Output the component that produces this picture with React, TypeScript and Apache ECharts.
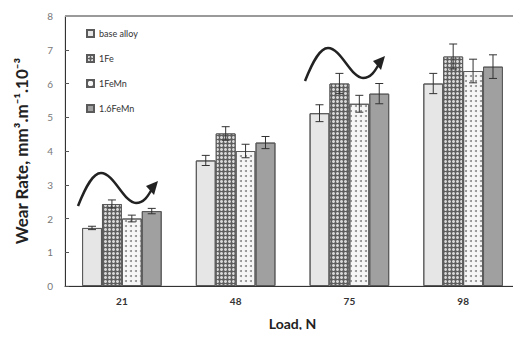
import React, { useEffect, useRef } from "react";
import * as echarts from "echarts";

const categories = ["21", "48", "75", "98"];
const seriesNames = ["base alloy", "1Fe", "1FeMn", "1.6FeMn"];
const baseAlloy = [1.72, 3.72, 5.12, 6.0];
const fe1 = [2.43, 4.52, 6.0, 6.8];
const feMn1 = [2.0, 4.0, 5.4, 6.37];
const feMn16 = [2.22, 4.25, 5.7, 6.5];
const errBase = [0.05, 0.15, 0.25, 0.3];
const errFe1 = [0.12, 0.2, 0.3, 0.37];
const errFeMn1 = [0.1, 0.2, 0.25, 0.35];
const errFeMn16 = [0.08, 0.18, 0.3, 0.35];
const yTicks = [0, 1, 2, 3, 4, 5, 6, 7, 8];

const values = [baseAlloy, fe1, feMn1, feMn16];
const errors = [errBase, errFe1, errFeMn1, errFeMn16];

const styles = [
  { color: "#e6e6e6", decal: { symbol: "circle", symbolSize: 1, color: "#a8a8a8", dashArrayX: [1, 2], dashArrayY: [1, 2] } },
  { color: "#5e5e5e", decal: { symbol: "circle", symbolSize: 1, color: "#d8d8d8", dashArrayX: [3, 1], dashArrayY: [3, 1] } },
  { color: "#f6f6f6", decal: { symbol: "circle", symbolSize: 1, color: "#8a8a8a", dashArrayX: [2, 3], dashArrayY: [2, 3] } },
  { color: "#a0a0a0", decal: { symbol: "circle", symbolSize: 1, color: "#d2d2d2", dashArrayX: [1, 2], dashArrayY: [1, 2] } },
];

const wavePath = "M0,0 C8,-20 15,-33 23,-33 C36,-33 46,-3 58,-3 C66,-3 70,-10 74,-17";
let registered = false;

export default function App() {
  const ref = useRef<HTMLDivElement>(null);
  useEffect(() => {
    if (!registered) {
      echarts.graphic.registerShape("wave", echarts.graphic.extendPath(wavePath, {}) as any);
      registered = true;
    }
    const chart = echarts.init(ref.current!, null, { renderer: "svg" });
    const barSeries = seriesNames.map((name, i) => ({
      name,
      type: "bar",
      data: values[i],
      barGap: "0%",
      barCategoryGap: "30%",
      itemStyle: { color: styles[i].color, decal: styles[i].decal, borderColor: "#5a5a5a", borderWidth: 1 },
    }));
    const errSeries = seriesNames.map((name, i) => ({
      name: name + "_err",
      type: "custom",
      z: 5,
      silent: true,
      data: values[i].map((v, k) => [k, v - errors[i][k], v + errors[i][k]]),
      renderItem: (params: any, api: any) => {
        const k = api.value(0);
        const band = api.size([1, 0])[0];
        const barW = (band * 0.7) / 4;
        const off = (i - 1.5) * barW;
        const lo = api.coord([k, api.value(1)]);
        const hi = api.coord([k, api.value(2)]);
        const x = lo[0] + off;
        const cap = 4;
        const st = { stroke: "#333", lineWidth: 1 };
        return {
          type: "group",
          children: [
            { type: "line", shape: { x1: x, y1: lo[1], x2: x, y2: hi[1] }, style: st },
            { type: "line", shape: { x1: x - cap, y1: lo[1], x2: x + cap, y2: lo[1] }, style: st },
            { type: "line", shape: { x1: x - cap, y1: hi[1], x2: x + cap, y2: hi[1] }, style: st },
          ],
        };
      },
    }));
    const arrowHead = (x: number, y: number) => ({
      type: "polygon",
      x,
      y,
      shape: { points: [[80, -25], [68, -20], [76, -11]] },
      style: { fill: "#222" },
    });
    chart.setOption({
      animation: false,
      textStyle: { fontFamily: "Lato" },
      grid: { left: 65, right: 1, top: 16, bottom: 52, show: true, borderColor: "#c8c8c8", borderWidth: 1 },
      legend: {
        data: seriesNames,
        orient: "vertical",
        left: 81,
        top: 24,
        itemGap: 16,
        itemWidth: 7,
        itemHeight: 7,
        icon: "rect",
        textStyle: { fontSize: 9, color: "#333", fontFamily: "Lato" },
      },
      xAxis: {
        type: "category",
        data: categories,
        name: "Load, N",
        nameLocation: "middle",
        nameGap: 30,
        nameTextStyle: { fontSize: 14, fontWeight: "bold", color: "#222", fontFamily: "Lato" },
        axisLine: { lineStyle: { color: "#333", width: 1 } },
        axisTick: { inside: true, length: 4, lineStyle: { color: "#555" } },
        axisLabel: { fontSize: 10, fontWeight: "bold", color: "#333", margin: 10 },
      },
      yAxis: {
        type: "value",
        min: yTicks[0],
        max: yTicks[yTicks.length - 1],
        interval: 1,
        name: "Wear Rate, mm³.m⁻¹.10⁻³",
        nameLocation: "middle",
        nameGap: 35,
        nameTextStyle: { fontSize: 17, fontWeight: "bold", color: "#222", fontFamily: "Lato" },
        axisLine: { show: true, lineStyle: { color: "#333", width: 1 } },
        axisTick: { show: true, inside: true, length: 4, lineStyle: { color: "#555" } },
        axisLabel: { fontSize: 10, color: "#777", margin: 12 },
        splitLine: { show: false },
      },
      graphic: [
        { type: "line", shape: { x1: 65, y1: 16, x2: 521, y2: 16 }, style: { stroke: "#9a9a9a", lineWidth: 2 }, z: 10 },
        { type: "wave", x: 78, y: 206, style: { stroke: "#222", lineWidth: 2.5, fill: null }, z: 10 },
        { ...arrowHead(78, 206), z: 10 },
        { type: "wave", x: 305, y: 81, style: { stroke: "#222", lineWidth: 2.5, fill: null }, z: 10 },
        { ...arrowHead(305, 81), z: 10 },
      ],
      series: [...barSeries, ...errSeries],
    });
    return () => chart.dispose();
  }, []);
  return <div ref={ref} style={{ width: 521, height: 338, margin: -8 }} />;
}
